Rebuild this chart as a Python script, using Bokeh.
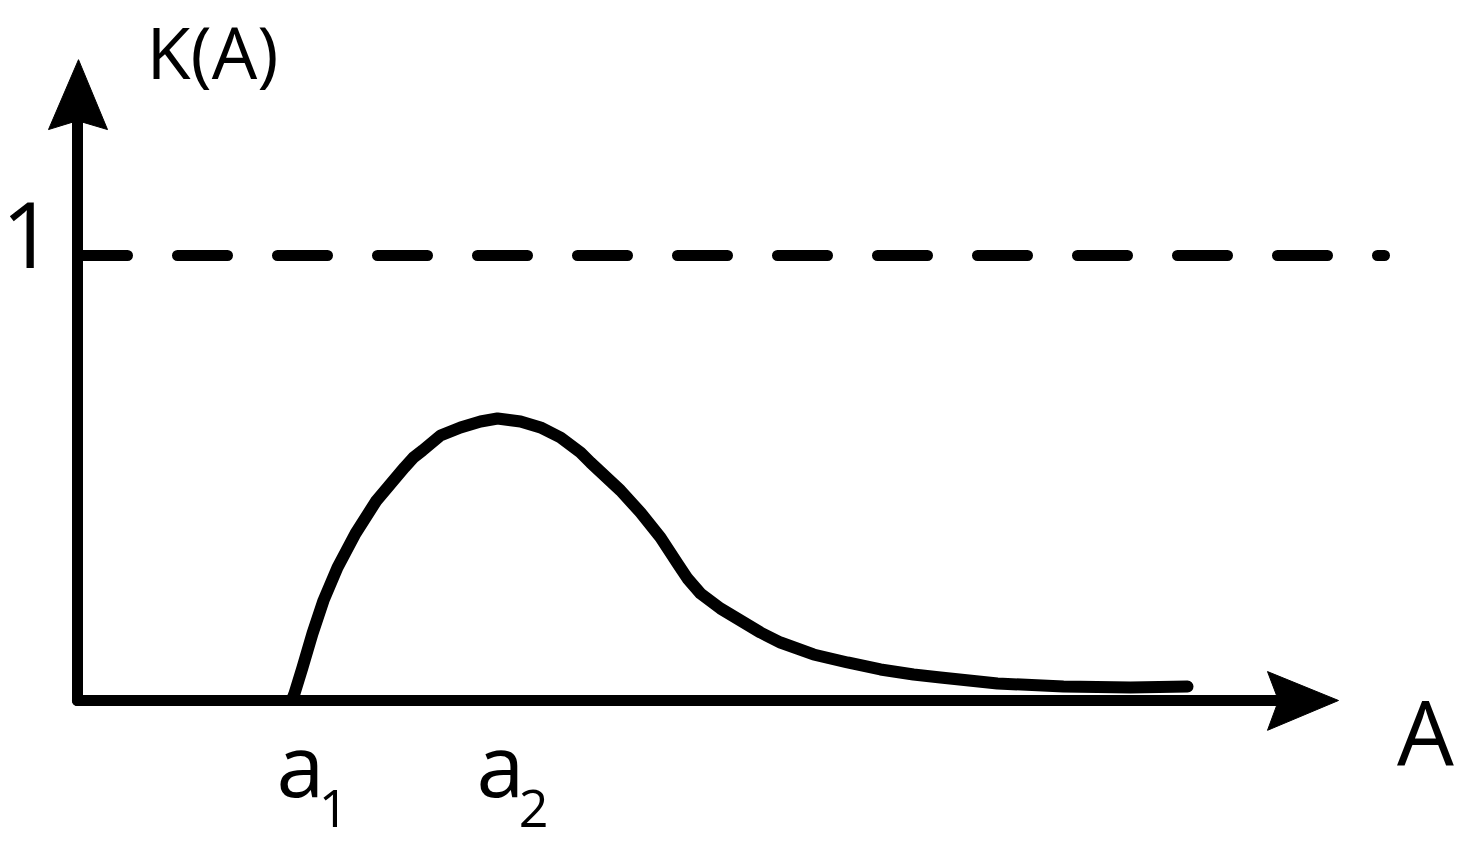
from bokeh.plotting import figure
from bokeh.models import Range1d
from bokeh.core.properties import value
from bokeh.embed import file_html
from bokeh.resources import INLINE

# ---- data (A in arbitrary units, K(A) relative to the level 1) ----
curve_A = [2.15, 2.17, 2.25, 2.35, 2.46, 2.60, 2.78, 2.99, 3.27, 3.36, 3.45, 3.63, 3.83,
           4.03, 4.20, 4.43, 4.63, 4.83, 5.03, 5.13, 5.43, 5.63, 5.83, 6.00, 6.10,
           6.23, 6.43, 6.63, 6.83, 7.03, 7.36, 7.70, 8.03, 8.36, 8.63, 9.20, 9.86,
           10.53, 11.10]
curve_K = [0.0045, 0.0157, 0.0742, 0.1506, 0.2247, 0.2989, 0.3753, 0.4494, 0.5236, 0.5461,
           0.5618, 0.5955, 0.6135, 0.6270, 0.6337, 0.6270, 0.6135, 0.5910, 0.5573, 0.5348,
           0.4719, 0.4225, 0.3663, 0.3079, 0.2742, 0.2404, 0.2067, 0.1798, 0.1528, 0.1303,
           0.1034, 0.0854, 0.0697, 0.0584, 0.0517, 0.0382, 0.0315, 0.0292, 0.0315]

level_K = 1.0
level_A_end = 13.07

x_axis_end = 12.01
y_axis_end = 1.303
x_head_A = [12.61, 11.90, 12.01, 11.90]
x_head_K = [0.0, 0.065, 0.0, -0.067]
y_head_A = [0.01, -0.29, 0.0, 0.30]
y_head_K = [1.440, 1.283, 1.303, 1.283]

tick_labels = ["a", "a"]
tick_label_A = [2.23, 4.23]
tick_subs = ["1", "2"]
tick_sub_A = [2.56, 4.56]

FONT = "Open Sans"

p = figure(width=1455, height=842,
           x_range=Range1d(-0.77, 13.78), y_range=Range1d(-0.3191, 1.5730),
           output_backend="svg", toolbar_location=None, min_border=0)
p.axis.visible = False
p.grid.visible = False
p.outline_line_color = None
p.background_fill_color = "white"
p.border_fill_color = "white"

LW = 11
# dashed level K = 1
p.line([0, level_A_end], [level_K, level_K], line_width=LW, line_color="black",
       line_dash="50 50", line_cap="round")
# axes
p.line([0, x_axis_end], [0, 0], line_width=LW, line_color="black", line_cap="round")
p.line([0, 0], [0, y_axis_end], line_width=LW, line_color="black", line_cap="round")
p.patch(x_head_A, x_head_K, fill_color="black", line_color="black", line_width=1)
p.patch(y_head_A, y_head_K, fill_color="black", line_color="black", line_width=1)
# curve
p.line(curve_A, curve_K, line_width=LW + 1, line_color="black", line_cap="round",
       line_join="round")

# labels
p.text(x=[1.35], y=[1.4598], text=["K(A)"], text_font=value(FONT), text_font_size="72px",
       text_align="center", text_baseline="alphabetic", text_color="black")
p.text(x=[-0.76], y=[1.047], text=["1"], text_font=value(FONT), text_font_size="92px",
       text_align="left", text_baseline="alphabetic", text_color="black")
p.text(x=[13.48], y=[-0.0674], text=["A"], text_font=value(FONT), text_font_size="90px",
       text_align="center", text_baseline="alphabetic", text_color="black")
p.text(x=tick_label_A, y=[-0.1416, -0.1416], text=tick_labels, text_font=value(FONT),
       text_font_size="86px", text_align="center", text_baseline="alphabetic", text_color="black")
p.text(x=tick_sub_A, y=[-0.2427, -0.2427], text=tick_subs, text_font=value(FONT),
       text_font_size="52px", text_align="center", text_baseline="alphabetic", text_color="black")

open("out.html", "w").write(file_html(p, INLINE))
